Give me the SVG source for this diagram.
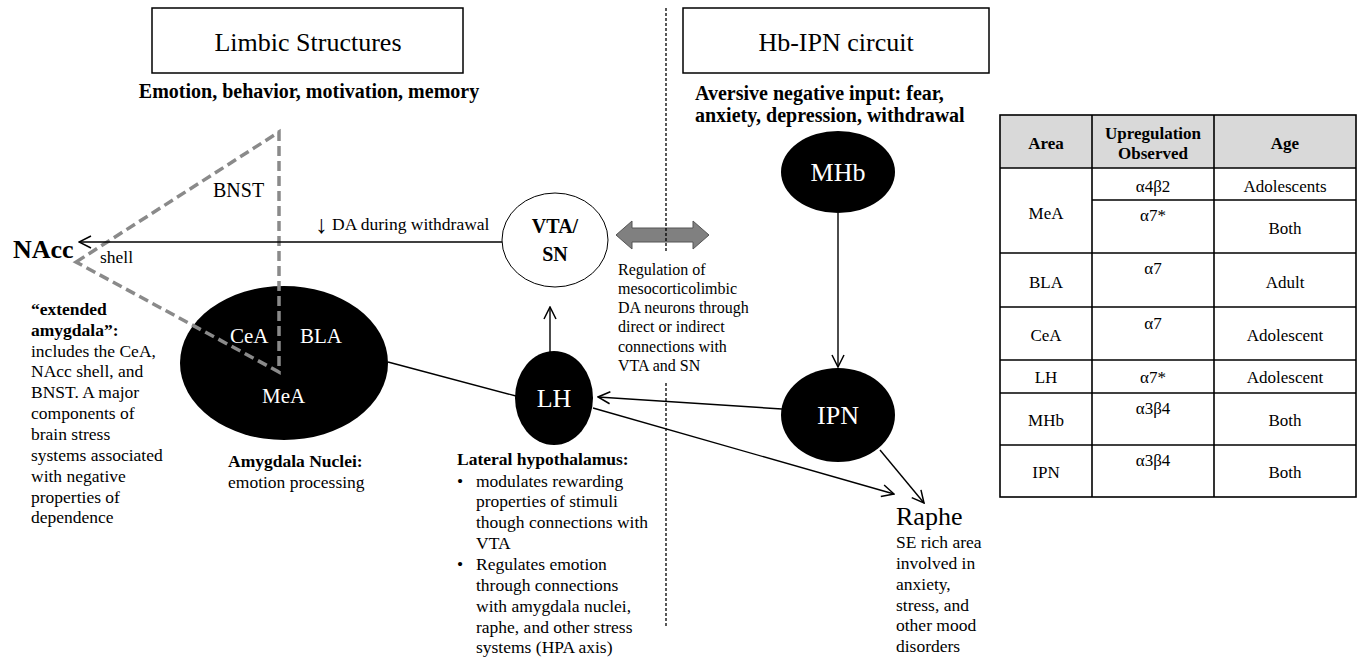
<svg xmlns="http://www.w3.org/2000/svg" width="1359" height="660" viewBox="0 0 1359 660">
<defs>
<style>
text{font-family:"Liberation Serif","Times New Roman",serif;fill:#000}
.t26{font-size:26px}
.b20{font-size:20px;font-weight:bold}
.s17{font-size:17.5px}
.b17{font-size:17.5px;font-weight:bold}
.s16{font-size:16px}
.w{fill:#fff}
.c{text-anchor:middle}
.tb{font-size:17px}
.tbb{font-size:17px;font-weight:bold}
.ln{stroke:#000;stroke-width:1.4;fill:none}
.arr{marker-end:url(#ah)}
.grid{stroke:#000;stroke-width:1.6;fill:none}
.gd{stroke:#8a8a8a;stroke-width:3.5;stroke-dasharray:10,5;fill:none}
.div{stroke:#000;stroke-width:1.3;stroke-dasharray:3,2;fill:none}
</style>
<marker id="ah" viewBox="0 0 14 14" refX="13" refY="7" markerWidth="14" markerHeight="14" markerUnits="userSpaceOnUse" orient="auto">
<path d="M1,1 L13,7 L1,13" fill="none" stroke="#000" stroke-width="1.5"/>
</marker>
</defs>
<rect width="1359" height="660" fill="#fff"/>

<g id="title-limbic">
<rect x="152" y="8" width="311" height="65" fill="#fff" stroke="#000" stroke-width="1.5"/>
<text class="t26 c" x="308" y="51">Limbic Structures</text>
<text class="b20 c" x="309" y="98">Emotion, behavior, motivation, memory</text>
</g>
<g id="title-hbipn">
<rect x="683" y="8" width="306" height="65" fill="#fff" stroke="#000" stroke-width="1.5"/>
<text class="t26 c" x="836" y="51">Hb-IPN circuit</text>
<text class="b20" x="695" y="100">Aversive negative input: fear,</text>
<text class="b20" x="695" y="122">anxiety, depression, withdrawal</text>
</g>

<g id="amygdala">
<ellipse cx="284" cy="363" rx="104" ry="77" fill="#000"/>
<text class="w" x="230" y="343" style="font-size:21px">CeA</text>
<text class="w" x="300" y="343" style="font-size:21px">BLA</text>
<text class="w" x="262" y="403" style="font-size:21px">MeA</text>
<text class="b17" x="228" y="467">Amygdala Nuclei:</text>
<text class="s17" x="228" y="488">emotion processing</text>
</g>

<g id="bnst">
<polygon class="gd" points="76,262 279,132 279,372"/>
<text x="213" y="197" style="font-size:20px">BNST</text>
</g>

<g id="nacc">
<text x="13" y="258" style="font-size:26px;font-weight:bold">NAcc</text>
<text class="s17" x="100" y="263">shell</text>
<text class="b17" x="31" y="315">“extended</text>
<text class="b17" x="31" y="336">amygdala”:</text>
<text class="s17" x="31" y="357">includes the CeA,</text>
<text class="s17" x="31" y="377">NAcc shell, and</text>
<text class="s17" x="31" y="398">BNST. A major</text>
<text class="s17" x="31" y="419">components of</text>
<text class="s17" x="31" y="440">brain stress</text>
<text class="s17" x="31" y="461">systems associated</text>
<text class="s17" x="31" y="482">with negative</text>
<text class="s17" x="31" y="503">properties of</text>
<text class="s17" x="31" y="523">dependence</text>
</g>

<g id="vta">
<ellipse cx="555" cy="240" rx="53" ry="47" fill="#fff" stroke="#000" stroke-width="1"/>
<text class="c" x="555" y="233" style="font-size:20px;font-weight:bold">VTA/</text>
<text class="c" x="555" y="261" style="font-size:20px;font-weight:bold">SN</text>
</g>

<g id="lh">
<ellipse cx="554" cy="398" rx="39" ry="47" fill="#000"/>
<text class="t26 w c" x="554" y="407">LH</text>
<text class="b17" x="457" y="465">Lateral hypothalamus:</text>
<text class="s17" x="457" y="487">•</text>
<text class="s17" x="476" y="487">modulates rewarding</text>
<text class="s17" x="476" y="507">properties of stimuli</text>
<text class="s17" x="476" y="528">though connections with</text>
<text class="s17" x="476" y="549">VTA</text>
<text class="s17" x="457" y="570">•</text>
<text class="s17" x="476" y="570">Regulates emotion</text>
<text class="s17" x="476" y="591">through connections</text>
<text class="s17" x="476" y="612">with amygdala nuclei,</text>
<text class="s17" x="476" y="633">raphe, and other stress</text>
<text class="s17" x="476" y="653">systems (HPA axis)</text>
</g>

<g id="mhb">
<ellipse cx="838" cy="172" rx="57" ry="41" fill="#000"/>
<text class="t26 w c" x="838" y="181">MHb</text>
</g>

<g id="ipn">
<ellipse cx="838" cy="415" rx="57" ry="47" fill="#000"/>
<text class="t26 w c" x="838" y="424">IPN</text>
</g>

<g id="raphe">
<text class="t26" x="896" y="525">Raphe</text>
<text class="s17" x="896" y="548">SE rich area</text>
<text class="s17" x="896" y="569">involved in</text>
<text class="s17" x="896" y="590">anxiety,</text>
<text class="s17" x="896" y="611">stress, and</text>
<text class="s17" x="896" y="631">other mood</text>
<text class="s17" x="896" y="652">disorders</text>
</g>

<g id="regulation">
<polygon points="616,235 632,221 632,228 693,228 693,221 709,235 693,249 693,242 632,242 632,249" fill="#808080" stroke="#555" stroke-width="1"/>
<text class="s16" x="618" y="275">Regulation of</text>
<text class="s16" x="618" y="294">mesocorticolimbic</text>
<text class="s16" x="618" y="313">DA neurons through</text>
<text class="s16" x="618" y="332">direct or indirect</text>
<text class="s16" x="618" y="352">connections with</text>
<text class="s16" x="618" y="371">VTA and SN</text>
</g>

<g id="connectors">
<line class="ln arr" x1="502" y1="242" x2="79" y2="242"/>
<text x="315" y="233" style="font-size:25px">↓</text>
<text class="s17" x="332" y="230">DA during withdrawal</text>
<line class="ln arr" x1="550" y1="352" x2="550" y2="307"/>
<line class="ln arr" x1="838" y1="213" x2="838" y2="367"/>
<line class="ln arr" x1="782" y1="409" x2="598" y2="397"/>
<line class="ln" x1="388" y1="362" x2="516" y2="396"/>
<line class="ln arr" x1="593" y1="408" x2="894" y2="494"/>
<line class="ln arr" x1="880" y1="450" x2="924" y2="503"/>
<line class="div" x1="666" y1="8" x2="666" y2="253"/>
<line class="div" x1="666" y1="383" x2="666" y2="628"/>
</g>

<g id="table">
<rect x="1000" y="115" width="356" height="53" fill="#d9d9d9"/>
<rect class="grid" x="1000" y="115" width="356" height="382"/>
<line class="grid" x1="1000" y1="168" x2="1356" y2="168"/>
<line class="grid" x1="1092" y1="115" x2="1092" y2="497"/>
<line class="grid" x1="1214" y1="115" x2="1214" y2="497"/>
<line class="grid" x1="1092" y1="200" x2="1356" y2="200"/>
<line class="grid" x1="1000" y1="253" x2="1356" y2="253"/>
<line class="grid" x1="1000" y1="307" x2="1356" y2="307"/>
<line class="grid" x1="1000" y1="360" x2="1356" y2="360"/>
<line class="grid" x1="1000" y1="393" x2="1356" y2="393"/>
<line class="grid" x1="1000" y1="445" x2="1356" y2="445"/>
<text class="tbb c" x="1046" y="149">Area</text>
<text class="tbb c" x="1153" y="139">Upregulation</text>
<text class="tbb c" x="1153" y="159">Observed</text>
<text class="tbb c" x="1285" y="149">Age</text>
<text class="tb c" x="1046" y="219">MeA</text>
<text class="tb c" x="1153" y="192">α4β2</text>
<text class="tb c" x="1285" y="192">Adolescents</text>
<text class="tb c" x="1153" y="221">α7*</text>
<text class="tb c" x="1285" y="234">Both</text>
<text class="tb c" x="1046" y="288">BLA</text>
<text class="tb c" x="1153" y="274">α7</text>
<text class="tb c" x="1285" y="288">Adult</text>
<text class="tb c" x="1046" y="341">CeA</text>
<text class="tb c" x="1153" y="329">α7</text>
<text class="tb c" x="1285" y="341">Adolescent</text>
<text class="tb c" x="1046" y="383">LH</text>
<text class="tb c" x="1153" y="383">α7*</text>
<text class="tb c" x="1285" y="383">Adolescent</text>
<text class="tb c" x="1046" y="426">MHb</text>
<text class="tb c" x="1153" y="414">α3β4</text>
<text class="tb c" x="1285" y="426">Both</text>
<text class="tb c" x="1046" y="478">IPN</text>
<text class="tb c" x="1153" y="466">α3β4</text>
<text class="tb c" x="1285" y="478">Both</text>
</g>
</svg>
